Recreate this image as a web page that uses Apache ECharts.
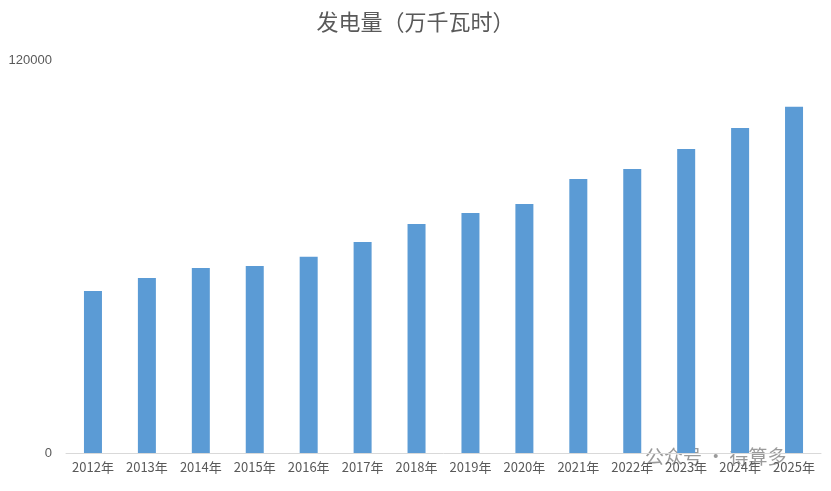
<!DOCTYPE html>
<html><head><meta charset="utf-8">
<script src="https://cdn.jsdelivr.net/npm/echarts@6/dist/echarts.min.js"></script>
<style>html,body{margin:0;padding:0;background:#fff}#c{width:831px;height:491px}</style>
</head><body><div id="c"></div>
<script>
var categories = ['2012年','2013年','2014年','2015年','2016年','2017年','2018年','2019年','2020年','2021年','2022年','2023年','2024年','2025年'];
var values = [49500,53400,56500,57100,59900,64400,69900,73300,76000,83700,86700,92800,99200,105700];
var yTicks = [0,120000];
var chart = echarts.init(document.getElementById('c'));
chart.setOption({
  animation:false,
  title:{text:'发电量（万千瓦时）',left:'center',top:6,textStyle:{fontSize:22,fontWeight:'normal',color:'#595959',fontFamily:'Noto Sans CJK SC'}},
  grid:{left:66,right:10,top:60,bottom:38},
  xAxis:{type:'category',data:categories,axisTick:{show:false},
    axisLine:{lineStyle:{color:'#d9d9d9'}},
    axisLabel:{color:'#595959',fontSize:13,fontFamily:'Noto Sans CJK SC',margin:8,interval:0}},
  yAxis:{type:'value',min:yTicks[0],max:yTicks[1],interval:120000,splitLine:{show:false},
    axisLabel:{color:'#595959',fontSize:13,margin:14,formatter:function(v){return String(v);}}},
  series:[{type:'bar',data:values,barWidth:18,itemStyle:{color:'#5b9bd5'}}],
  graphic:[{type:'text',left:645,top:447,style:{text:'公众号 · 得算多',fill:'rgba(120,120,120,0.75)',fontSize:19,fontFamily:'Noto Sans CJK SC'}}]
});
</script></body></html>
